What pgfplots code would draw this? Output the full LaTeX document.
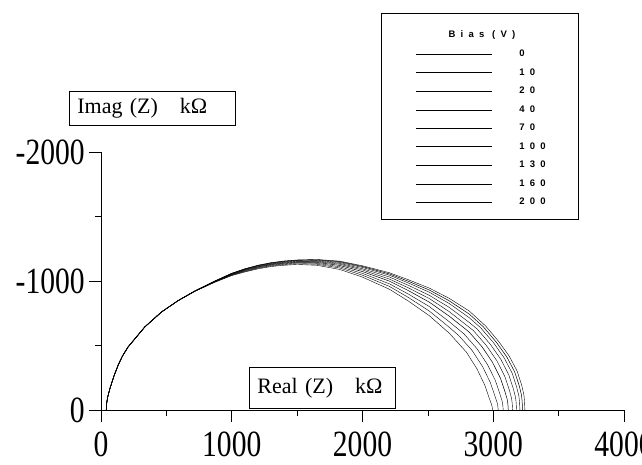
\documentclass[border=0pt]{standalone}
\usepackage{fontspec}
\setmainfont{Liberation Serif}
\newfontfamily\legfont[LetterSpace=55]{Liberation Sans}
\usepackage{graphicx}
\usepackage{pgfplots}
\pgfplotsset{compat=1.18}
\newcommand\tl[1]{\scalebox{0.8}[1]{#1}}
\begin{document}
\begin{tikzpicture}
\useasboundingbox (-101pt,-55pt) rectangle (541pt,410pt);
\begin{axis}[
  at={(0pt,0pt)}, anchor=south west,
  scale only axis, width=523pt, height=258pt,
  xmin=0, xmax=4000, ymin=0, ymax=2000,
  axis x line*=bottom, axis y line*=left,
  axis line style={-, line width=0.6pt},
  xtick={0,1000,2000,3000,4000},
  xticklabels={\tl{0},\tl{1000},\tl{2000},\tl{3000},\tl{4000}},
  ytick={0,1000,2000},
  yticklabels={\tl{0},\tl{-1000},\tl{-2000}},
  minor xtick={500,1500,2500,3500}, minor ytick={500,1500},
  tick align=outside, major tick length=12pt, minor tick length=6pt,
  tick style={black, line width=0.6pt},
  ticklabel style={font=\fontsize{37}{39}\selectfont, inner sep=0pt},
  xticklabel style={yshift=-10pt},
  yticklabel style={xshift=-4pt},
  clip=false,
  cycle list={{black, line width=0.5pt, no markers, solid}},
  no markers,
  legend cell align=left,
  legend style={at={(axis cs:2409,2831)}, anchor=north west, draw=none, fill=none,
    inner sep=0pt, row sep=0pt, column sep=0pt,
    font=\legfont\bfseries\fontsize{9.5}{10}\selectfont,
    nodes={inner sep=0pt}},
  legend image code/.code={\path[draw=none, fill=none] (0pt,-9.25pt) rectangle (103pt,9.25pt); \draw[#1] (0pt,0pt) -- (76pt,0pt);},
]
\addplot table {
40 0
41 25
44 55
50 95
60 135
70 172
82 210
100 266
132 350
165 420
208 490
336 645
463 760
590 848
718 923
870 1000
1000 1060
1100 1095
1200 1122
1300 1142
1400 1155
1500 1163
1650 1167
1824 1154
2000 1118
2206 1064
2350 1010
2511 945
2664 865
2817 767
2942 651
3042 531
3122 418
3182 303
3217 194
3234 120
3239 70
3242 0
};
\addlegendentry{0}
\addplot table {
40 0
41 25
44 55
50 95
60 135
70 172
82 210
100 266
132 350
165 420
208 490
336 645
463 760
590 848
718 923
870 999
1000 1059
1100 1093
1200 1120
1300 1140
1400 1153
1500 1161
1650 1164
1824 1150
2000 1112
2206 1055
2350 998
2511 930
2664 846
2817 743
2924 645
3024 525
3104 411
3164 295
3199 187
3216 115
3221 67
3224 0
};
\addlegendentry{10}
\addplot table {
40 0
41 25
44 55
50 95
60 135
70 172
82 210
100 266
132 350
165 420
208 490
336 645
463 760
590 848
718 923
870 998
1000 1057
1100 1091
1200 1118
1300 1138
1400 1150
1500 1158
1650 1160
1824 1144
2000 1105
2206 1045
2350 985
2511 913
2664 825
2817 715
2904 637
3004 519
3084 403
3144 287
3179 178
3196 108
3201 63
3204 0
};
\addlegendentry{20}
\addplot table {
40 0
41 25
44 55
50 95
60 135
70 172
82 210
100 266
132 350
165 420
208 490
336 645
463 760
590 848
718 922
870 997
1000 1055
1100 1088
1200 1115
1300 1134
1400 1146
1500 1154
1650 1155
1824 1137
2000 1095
2206 1031
2350 967
2511 889
2664 795
2817 678
2878 627
2978 509
3058 393
3118 274
3153 167
3170 100
3175 58
3178 0
};
\addlegendentry{40}
\addplot table {
40 0
41 25
44 55
50 95
60 135
70 172
82 210
100 266
132 350
165 420
208 490
336 645
463 760
590 848
718 922
870 996
1000 1053
1100 1086
1200 1111
1300 1131
1400 1142
1500 1150
1650 1150
1824 1130
2000 1085
2206 1015
2350 947
2511 864
2664 762
2848 616
2948 499
3028 381
3088 261
3123 154
3140 91
3145 52
3148 0
};
\addlegendentry{70}
\addplot table {
40 0
41 25
44 55
50 95
60 135
70 172
82 210
100 266
132 350
165 420
208 490
336 645
463 760
590 848
718 921
870 995
1000 1051
1100 1082
1200 1108
1300 1127
1400 1138
1500 1145
1650 1144
1824 1121
2000 1073
2206 999
2350 926
2511 836
2664 727
2815 605
2915 489
2995 368
3055 247
3090 141
3107 81
3112 46
3115 0
};
\addlegendentry{100}
\addplot table {
40 0
41 25
44 55
50 95
60 135
70 172
82 210
100 266
132 350
165 420
208 490
336 645
463 760
590 848
718 921
870 993
1000 1048
1100 1078
1200 1103
1300 1122
1400 1133
1500 1140
1650 1137
1824 1111
2000 1059
2206 978
2350 899
2511 802
2664 684
2776 590
2876 475
2956 352
3016 229
3051 124
3068 68
3073 38
3076 0
};
\addlegendentry{130}
\addplot table {
40 0
41 25
44 55
50 95
60 135
70 172
82 210
100 266
132 350
165 420
208 490
336 645
463 760
590 848
718 921
870 992
1000 1045
1100 1074
1200 1099
1300 1117
1400 1128
1500 1134
1650 1130
1824 1101
2000 1045
2206 958
2350 873
2511 767
2664 641
2738 575
2838 462
2918 337
2978 212
3013 108
3030 56
3035 30
3038 0
};
\addlegendentry{160}
\addplot table {
40 0
41 25
44 55
50 95
60 135
70 172
82 210
100 266
132 350
165 420
208 490
336 645
463 760
590 848
718 920
870 990
1000 1042
1100 1070
1200 1094
1300 1112
1400 1122
1500 1128
1650 1122
1824 1090
2000 1030
2206 936
2350 845
2511 731
2664 595
2695 560
2795 448
2875 320
2935 193
2970 90
2987 43
2992 22
2995 0
};
\addlegendentry{200}
\end{axis}
% legend frame and title
\draw[line width=0.8pt] (280pt,191pt) rectangle (477pt,397pt);
\node[font=\legfont\bfseries\fontsize{9.5}{10}\selectfont, inner sep=0pt] at (381pt,375pt) {Bias (V)};
% axis title boxes
\node[draw, line width=0.7pt, anchor=north west, inner xsep=8pt, inner ysep=0pt,
  text width=150pt, minimum height=34pt, align=left,
  font=\fontsize{22}{24}\selectfont] at (-32pt,319pt) {Imag (Z) \ \ kΩ};
\node[draw, line width=0.7pt, fill=white, anchor=north west, inner xsep=8pt, inner ysep=0pt,
  text width=130pt, minimum height=41pt, align=left,
  font=\fontsize{22}{24}\selectfont] at (148pt,43pt) {Real (Z) \ \ kΩ};
\end{tikzpicture}
\end{document}
